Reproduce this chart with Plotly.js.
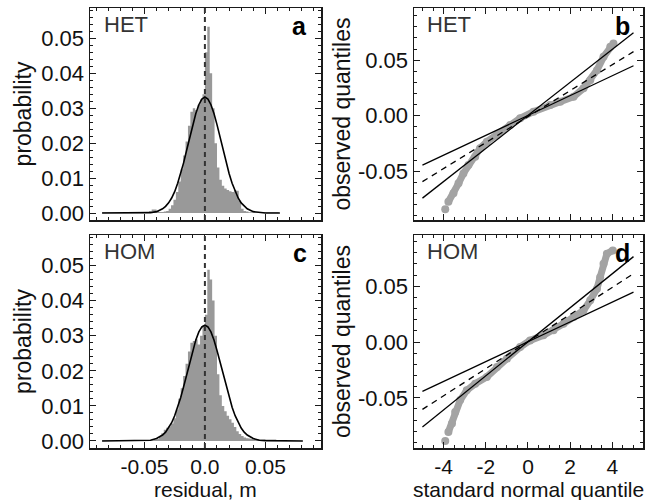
<!DOCTYPE html>
<html>
<head>
<meta charset="utf-8">
<script src="https://cdn.plot.ly/plotly-3.0.1.min.js"></script>
<style>html,body{margin:0;padding:0;background:#fff;}#chart{width:652px;height:500px;}</style>
</head>
<body>
<div id="chart"></div>
<script>
// ---------- Histogram data (bin centres, probability) ----------
const hetBins = [-0.085,-0.083,-0.081,-0.079,-0.077,-0.075,-0.073,-0.071,-0.069,-0.067,-0.065,-0.063,-0.061,-0.059,-0.057,-0.055,-0.053,-0.051,-0.049,-0.047,
 -0.045,-0.043,-0.041,-0.039,-0.037,-0.035,-0.033,-0.031,-0.029,-0.027,-0.025,-0.023,-0.021,-0.019,-0.017,-0.015,-0.013,-0.011,-0.009,-0.007,-0.005,-0.003,-0.001,
 0.001,0.003,0.005,0.007,0.009,0.011,0.013,0.015,0.017,0.019,0.021,0.023,0.025,0.027,0.029,0.031,0.033,0.035,
 0.037,0.039,0.041,0.043,0.045,0.047,0.049,0.051,0.053,0.055,0.057,0.059,0.061];
const hetProb = [0.0002,0.0002,0.0002,0.0002,0.0002,0.0002,0.0002,0.0002,0.0002,0.0002,0.0002,0.0002,0.0002,0.0002,0.0002,0.0002,0.0002,0.0002,0.0002,0.0002,
 0.0006,0.0010,0.0010,0.0006,0.0003,0.0003,0.0004,0.0006,0.0012,0.0022,0.0038,0.0060,0.0090,0.0125,0.0165,0.0205,0.0250,0.0290,0.0300,0.0295,0.0310,0.0325,0.0340,
 0.0460,0.0533,0.0400,0.0300,0.0200,0.0130,0.0095,0.0078,0.0070,0.0066,0.0062,0.0060,0.0066,0.0064,0.0035,0.0012,0.0006,0.0004,
 0.0002,0.0002,0.0002,0.0002,0.0002,0.0002,0.0002,0.0002,0.0002,0.0002,0.0002,0.0002,0.0002];

const homBins = [-0.085,-0.083,-0.081,-0.079,-0.077,-0.075,-0.073,-0.071,-0.069,-0.067,-0.065,-0.063,-0.061,-0.059,-0.057,-0.055,-0.053,-0.051,-0.049,-0.047,-0.045,-0.043,
 -0.041,-0.039,-0.037,-0.035,-0.033,-0.031,-0.029,-0.027,-0.025,-0.023,-0.021,-0.019,-0.017,-0.015,-0.013,-0.011,-0.009,-0.007,-0.005,-0.003,-0.001,
 0.001,0.003,0.005,0.007,0.009,0.011,0.013,0.015,0.017,0.019,0.021,0.023,0.025,0.027,0.029,0.031,0.033,0.035,0.037,0.039,
 0.041,0.043,0.045,0.047,0.049,0.051,0.053,0.055,0.057,0.059];
const homProb = [0.0002,0.0002,0.0002,0.0002,0.0002,0.0002,0.0002,0.0002,0.0002,0.0002,0.0002,0.0002,0.0002,0.0002,0.0002,0.0002,0.0002,0.0002,0.0002,0.0002,0.0002,0.0002,
 0.0004,0.0006,0.0012,0.0022,0.0032,0.0038,0.0042,0.0050,0.0065,0.0090,0.0120,0.0150,0.0185,0.0220,0.0255,0.0280,0.0285,0.0290,0.0275,0.0300,0.0330,
 0.0360,0.0488,0.0460,0.0400,0.0300,0.0190,0.0130,0.0100,0.0085,0.0072,0.0062,0.0052,0.0040,0.0028,0.0020,0.0014,0.0010,0.0008,0.0007,0.0006,
 0.0004,0.0004,0.0004,0.0004,0.0004,0.0004,0.0004,0.0004,0.0004,0.0004];

// ---------- Fitted normal curves ----------
const hetFitX = [-0.085,-0.05,-0.045,-0.04,-0.035,-0.0325,-0.03,-0.0275,-0.025,-0.0225,-0.02,-0.0175,-0.015,-0.0125,-0.01,-0.0075,-0.005,-0.0025,0,
 0.0025,0.005,0.0075,0.01,0.0125,0.015,0.0175,0.02,0.0225,0.025,0.0275,0.03,0.0325,0.035,0.04,0.045,0.05,0.062];
const hetFitY = [0,0,0.0001,0.0004,0.0012,0.0019,0.0029,0.0043,0.0061,0.0085,0.0113,0.0145,0.0181,0.0218,0.0253,0.0285,0.0310,0.0326,0.0332,
 0.0326,0.0310,0.0285,0.0253,0.0218,0.0181,0.0145,0.0113,0.0085,0.0061,0.0043,0.0029,0.0019,0.0012,0.0004,0.0001,0,0];
const homFitX = [-0.085,-0.05,-0.045,-0.04,-0.035,-0.0325,-0.03,-0.0275,-0.025,-0.0225,-0.02,-0.0175,-0.015,-0.0125,-0.01,-0.0075,-0.005,-0.0025,0,
 0.0025,0.005,0.0075,0.01,0.0125,0.015,0.0175,0.02,0.0225,0.025,0.0275,0.03,0.0325,0.035,0.04,0.045,0.05,0.081];
const homFitY = [0,0.0001,0.0002,0.0007,0.0017,0.0025,0.0037,0.0052,0.0072,0.0096,0.0124,0.0156,0.0190,0.0225,0.0258,0.0288,0.0311,0.0325,0.0330,
 0.0325,0.0311,0.0288,0.0258,0.0225,0.0190,0.0156,0.0124,0.0096,0.0072,0.0052,0.0037,0.0025,0.0017,0.0007,0.0002,0.0001,0];

// ---------- Q-Q data (theoretical, observed) ----------
const hetQQx = [-3.92,null,-3.77,-3.53,-3.29,-3.06,-2.82,-2.5,-2.27,-1.95,-1.47,-0.84,-0.37,0.26,1.05,1.53,2.16,2.63,2.95,3.27,3.58,3.9,4.05];
const hetQQy = [-0.0843,null,-0.0775,-0.070,-0.061,-0.052,-0.0444,-0.037,-0.0294,-0.0234,-0.0174,-0.0084,-0.0023,0.0036,0.0096,0.0126,0.017,0.0247,0.032,0.041,0.053,0.062,0.065];
const homQQx = [-3.92,null,-3.77,-3.6,-3.45,-3.21,-2.9,-2.5,-1.95,-1.47,-1.0,-0.37,0.1,0.73,1.21,1.68,2.16,2.63,2.95,3.27,3.42,3.58,3.74,4.02];
const homQQy = [-0.0887,null,-0.0806,-0.073,-0.0627,-0.052,-0.0433,-0.0373,-0.0313,-0.0224,-0.0149,-0.0045,0.0015,0.006,0.0105,0.0165,0.0224,0.0284,0.0374,0.0478,0.0582,0.0703,0.0792,0.0822];

// reference lines: x end points, then y for steep, dashed, shallow
const refX = [-5, 5];
const hetSteep = [-0.0743, 0.0748], hetMid = [-0.0594, 0.0577], hetShallow = [-0.0446, 0.0450];
const homSteep = [-0.0761, 0.0766], homMid = [-0.0604, 0.0613], homShallow = [-0.0442, 0.0448];

// tick labels
const histXTicks = [-0.05, 0, 0.05], histXText = ['-0.05', '0.0', '0.05'];
const histYTicks = [0, 0.01, 0.02, 0.03, 0.04, 0.05], histYText = ['0.00', '0.01', '0.02', '0.03', '0.04', '0.05'];
const qqXTicks = [-4, -2, 0, 2, 4], qqXText = ['-4', '-2', '0', '2', '4'];
const qqYTicks = [-0.05, 0, 0.05], qqYText = ['-0.05', '0.00', '0.05'];

const panelNames = ['HET', 'HOM'];
const panelLetters = ['a', 'b', 'c', 'd'];
const xTitles = ['residual, m', 'standard normal quantile'];
const yTitles = ['probability', 'observed quantiles'];

// ---------- styles ----------
const FONT = 'Liberation Sans, Arial, Helvetica, sans-serif';
const TICKFS = 22, XTICKFS = 21, YTITLEFS = 23, XTITLEFS = 21;
const GREY = '#999999';
const QQGREY = '#a3a3a3';
const INK = '#1a1a1a';

function histTrace(x, y, xa, ya) {
  return {type: 'scatter', mode: 'lines', x: x, y: y, line: {shape: 'hvh', width: 0, color: GREY},
          fill: 'tozeroy', fillcolor: GREY, xaxis: xa, yaxis: ya, hoverinfo: 'skip'};
}
function lineTrace(x, y, xa, ya, dash, w) {
  return {type: 'scatter', mode: 'lines', x: x, y: y, line: {color: '#000', width: w, dash: dash},
          xaxis: xa, yaxis: ya, hoverinfo: 'skip'};
}
function qqTrace(x, y, xa, ya) {
  return {type: 'scatter', mode: 'lines+markers', x: x, y: y, connectgaps: false,
          line: {color: QQGREY, width: 7}, marker: {color: QQGREY, size: 8},
          xaxis: xa, yaxis: ya, hoverinfo: 'skip'};
}

const data = [
  histTrace(hetBins, hetProb, 'x', 'y'),
  lineTrace(hetFitX, hetFitY, 'x', 'y', 'solid', 1.6),
  histTrace(homBins, homProb, 'x3', 'y3'),
  lineTrace(homFitX, homFitY, 'x3', 'y3', 'solid', 1.6),
  qqTrace(hetQQx, hetQQy, 'x2', 'y2'),
  lineTrace(refX, hetSteep, 'x2', 'y2', 'solid', 1.3),
  lineTrace(refX, hetShallow, 'x2', 'y2', 'solid', 1.3),
  lineTrace(refX, hetMid, 'x2', 'y2', '6px,5px', 1.3),
  qqTrace(homQQx, homQQy, 'x4', 'y4'),
  lineTrace(refX, homSteep, 'x4', 'y4', 'solid', 1.3),
  lineTrace(refX, homShallow, 'x4', 'y4', 'solid', 1.3),
  lineTrace(refX, homMid, 'x4', 'y4', '6px,5px', 1.3)
];

const W = 652, H = 500;
const colL = [90 / W, 321 / W], colR = [414 / W, 643 / W];
const rowT = [1 - 220 / H, 1 - 8 / H], rowB = [1 - 448 / H, 1 - 235 / H];

function minorSpec(dt) {
  return {ticks: 'inside', ticklen: 3, tickwidth: 1, tickcolor: INK, dtick: dt, showgrid: false};
}
function axisBase(extra) {
  return Object.assign({
    showline: true, linecolor: INK, linewidth: 1.5, mirror: 'allticks',
    ticks: 'inside', ticklen: 6, tickwidth: 1, tickcolor: INK,
    showgrid: false, zeroline: false, fixedrange: true,
    tickfont: {family: FONT, size: TICKFS, color: '#111'}
  }, extra);
}
function titleSpec(t, so) {
  return {text: t, font: {family: FONT, size: YTITLEFS, color: '#111'}, standoff: so};
}

const histX = {range: [-0.095, 0.096], tickmode: 'array', tickvals: histXTicks, ticktext: histXText, minor: minorSpec(0.01)};
const histY = {range: [-0.002, 0.0587], tickmode: 'array', tickvals: histYTicks, ticktext: histYText, minor: minorSpec(0.002)};
const qqX = {range: [-5.4, 5.45], tickmode: 'array', tickvals: qqXTicks, ticktext: qqXText, minor: minorSpec(0.5)};
const qqY = {tickmode: 'array', tickvals: qqYTicks, ticktext: qqYText, minor: minorSpec(0.01)};
const xTickFont = {family: FONT, size: XTICKFS, color: '#111'};

const layout = {
  width: W, height: H, margin: {l: 0, r: 0, t: 0, b: 0},
  paper_bgcolor: '#fff', plot_bgcolor: '#fff', showlegend: false,
  font: {family: FONT, size: TICKFS, color: '#111'},
  xaxis: axisBase(Object.assign({}, histX, {domain: colL, anchor: 'y', showticklabels: false})),
  yaxis: axisBase(Object.assign({}, histY, {domain: rowT, anchor: 'x', title: titleSpec(yTitles[0], 3)})),
  xaxis3: axisBase(Object.assign({}, histX, {domain: colL, anchor: 'y3', tickfont: xTickFont, ticklabelstandoff: -1})),
  yaxis3: axisBase(Object.assign({}, histY, {domain: rowB, anchor: 'x3', title: titleSpec(yTitles[0], 3)})),
  xaxis2: axisBase(Object.assign({}, qqX, {domain: colR, anchor: 'y2', showticklabels: false})),
  yaxis2: axisBase(Object.assign({}, qqY, {domain: rowT, anchor: 'x2', range: [-0.094, 0.097], title: titleSpec(yTitles[1], 1)})),
  xaxis4: axisBase(Object.assign({}, qqX, {domain: colR, anchor: 'y4', tickfont: xTickFont, ticklabelstandoff: -1})),
  yaxis4: axisBase(Object.assign({}, qqY, {domain: rowB, anchor: 'x4', range: [-0.095, 0.096], title: titleSpec(yTitles[1], 1)})),
  shapes: [
    {type: 'line', xref: 'x', yref: 'y domain', x0: 0, x1: 0, y0: 0, y1: 1, line: {color: '#333', width: 2, dash: '5px,4px'}},
    {type: 'line', xref: 'x3', yref: 'y3 domain', x0: 0, x1: 0, y0: 0, y1: 1, line: {color: '#333', width: 2, dash: '5px,4px'}}
  ],
  annotations: [
    {xref: 'x3 domain', yref: 'paper', x: 0.5, y: 0, yshift: -3, xanchor: 'center', yanchor: 'bottom', showarrow: false,
     text: xTitles[0], font: {family: FONT, size: XTITLEFS, color: '#111'}},
    {xref: 'x4 domain', yref: 'paper', x: 0.5, y: 0, yshift: -3, xanchor: 'center', yanchor: 'bottom', showarrow: false,
     text: xTitles[1], font: {family: FONT, size: XTITLEFS, color: '#111'}}
  ]
};

const axPairs = [['x', 'y'], ['x2', 'y2'], ['x3', 'y3'], ['x4', 'y4']];
axPairs.forEach(function (p, i) {
  layout.annotations.push({xref: p[0] + ' domain', yref: p[1] + ' domain', x: 0.05, y: 0.99,
    xanchor: 'left', yanchor: 'top', showarrow: false, text: panelNames[Math.floor(i / 2)],
    font: {family: FONT, size: 22, color: '#333'}});
  layout.annotations.push({xref: p[0] + ' domain', yref: p[1] + ' domain', x: 0.95, y: 0.99,
    xanchor: 'right', yanchor: 'top', showarrow: false, text: '<b>' + panelLetters[i] + '</b>',
    font: {family: FONT, size: 25, color: '#000'}});
});

Plotly.newPlot('chart', data, layout, {displayModeBar: false, staticPlot: true});
</script>
</body>
</html>
